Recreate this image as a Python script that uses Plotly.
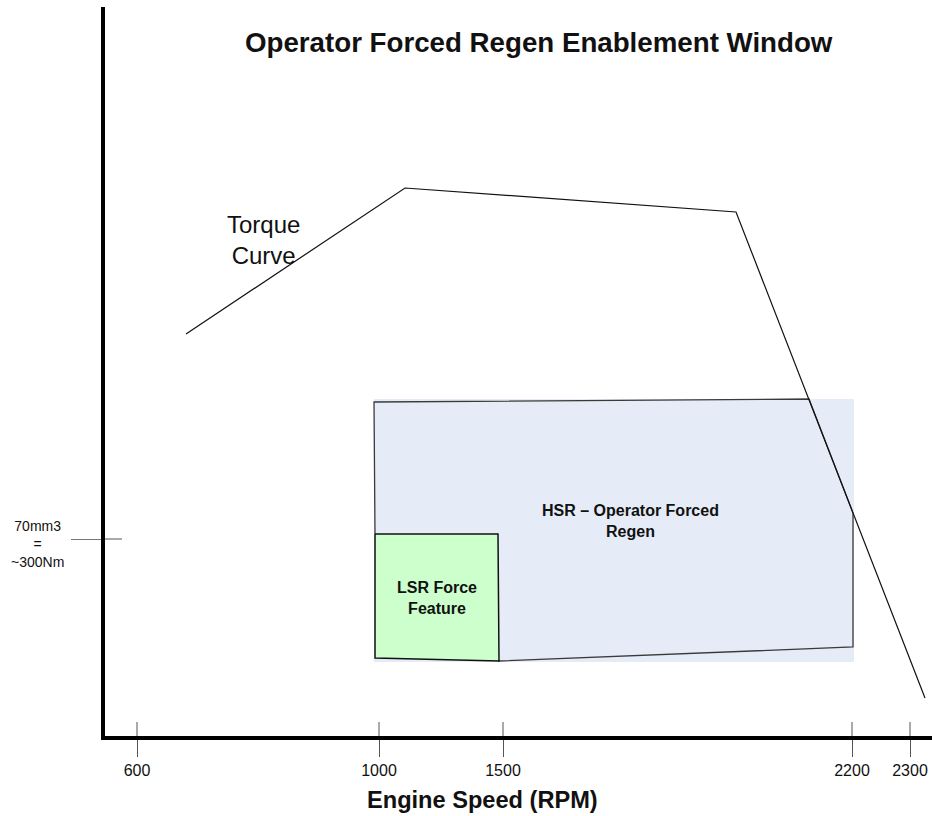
import plotly.graph_objects as go

# diagram units: x = px to the right of the torque axis, y = px above the speed axis
torque_x = [81, 300, 631, 820]
torque_y = [402, 548, 524, 38]

hsr_fill_x = [269, 749, 749, 269]
hsr_fill_y = [337, 337, 74, 74]
hsr_edge_x = [270, 269, 704, 748, 748, 393]
hsr_edge_y = [202, 334, 337, 223, 89, 75]

lsr_x = [270, 393, 394, 270, 270]
lsr_y = [202, 202, 75, 78, 202]

rpm_tick_pos = [32, 274, 398, 747, 805]
rpm_tick_text = ["600", "1000", "1500", "2200", "2300"]
fuel_tick_pos = [197]
fuel_tick_text = "70mm3<br>=<br>~300Nm"

FONT = "Arial, Liberation Sans, sans-serif"

fig = go.Figure()

fig.add_trace(go.Scatter(x=hsr_fill_x, y=hsr_fill_y, fill="toself", fillcolor="#E6ECF7",
                         mode="lines", line=dict(width=0), hoverinfo="skip"))
fig.add_trace(go.Scatter(x=hsr_edge_x, y=hsr_edge_y, mode="lines",
                         line=dict(color="#3a3a3a", width=1.3), hoverinfo="skip"))
fig.add_trace(go.Scatter(x=lsr_x, y=lsr_y, fill="toself", fillcolor="#CCFFCC", mode="lines",
                         line=dict(color="#111111", width=1.5), hoverinfo="skip"))
fig.add_trace(go.Scatter(x=torque_x, y=torque_y, mode="lines",
                         line=dict(color="#111111", width=1.2), hoverinfo="skip"))

# inner halves of the tick marks (the axis ticks only draw the outside half)
tx, ty = [], []
for p in rpm_tick_pos:
    tx += [p, p, None]
    ty += [0, 14, None]
for p in fuel_tick_pos:
    tx += [0, 17, None]
    ty += [p, p, None]
fig.add_trace(go.Scatter(x=tx, y=ty, mode="lines", line=dict(color="#555555", width=1),
                         hoverinfo="skip"))

fig.add_annotation(x=158, y=496, text="Torque<br>Curve", showarrow=False,
                   font=dict(family=FONT, size=24, color="#111111"))
fig.add_annotation(x=525, y=215, text="<b>HSR – Operator Forced<br>Regen</b>", showarrow=False,
                   font=dict(family=FONT, size=16, color="#111111"))
fig.add_annotation(x=332, y=138, text="<b>LSR Force<br>Feature</b>", showarrow=False,
                   font=dict(family=FONT, size=16, color="#111111"))
fig.add_annotation(xref="paper", x=-0.082, y=192, text=fuel_tick_text, showarrow=False,
                   xanchor="center", yanchor="middle",
                   font=dict(family=FONT, size=14, color="#111111"))
fig.add_annotation(xref="paper", yref="paper", x=0.456, y=-0.088,
                   xanchor="center", yanchor="middle",
                   text="<b>Engine Speed (RPM)</b>", showarrow=False,
                   font=dict(family=FONT, size=23.6, color="#111111"))

fig.update_layout(
    width=932, height=816,
    margin=dict(l=105, r=0, t=7, b=80),
    paper_bgcolor="white", plot_bgcolor="white",
    showlegend=False,
    title=dict(text="<b>Operator Forced Regen Enablement Window</b>",
               xref="container", yref="container", x=0.578, y=1 - 42 / 816,
               xanchor="center", yanchor="middle",
               font=dict(family=FONT, size=27.7, color="#111111")),
)
fig.update_xaxes(range=[0, 827], showgrid=False, zeroline=False,
                 showline=True, linewidth=4, linecolor="black",
                 ticks="outside", ticklen=17, tickwidth=1, tickcolor="#555555",
                 tickvals=rpm_tick_pos, ticktext=rpm_tick_text, ticklabelstandoff=0,
                 tickfont=dict(family=FONT, size=16, color="#111111"))
fig.update_yaxes(range=[0, 729], showgrid=False, zeroline=False,
                 showline=True, linewidth=4, linecolor="black",
                 ticks="outside", ticklen=30, tickwidth=1, tickcolor="#777777",
                 tickvals=fuel_tick_pos, showticklabels=False)

fig.write_html("out.html", config={"displayModeBar": False},
               post_script="document.body.style.margin='0px';")
